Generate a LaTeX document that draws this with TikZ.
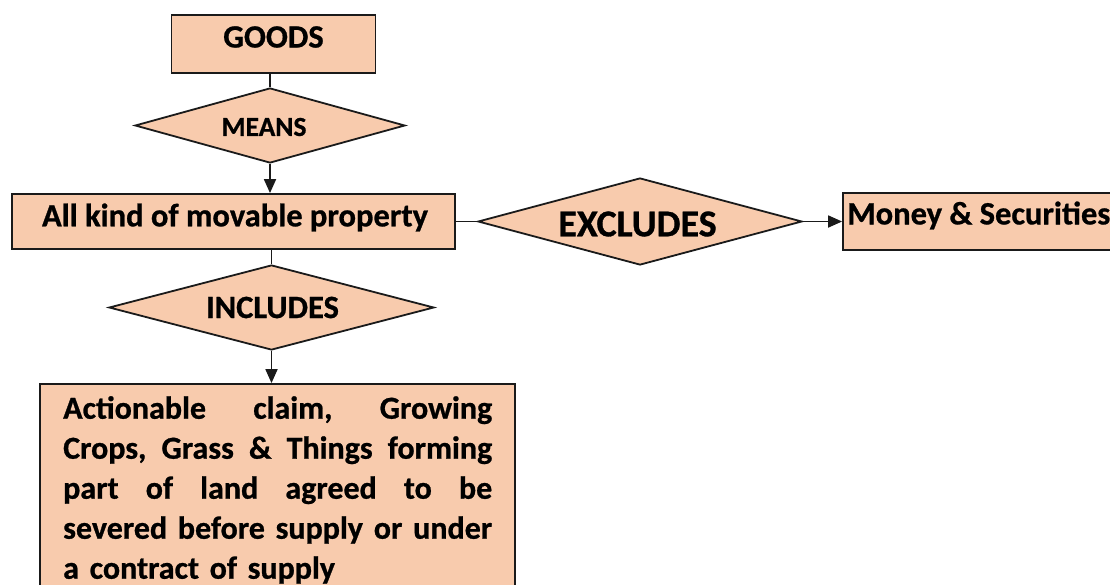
\documentclass[tikz,border=0pt]{standalone}
\usepackage{fontspec}
\setmainfont{Carlito}[BoldFeatures={FakeBold=0.8}]
\usetikzlibrary{shapes.geometric,arrows.meta}
\definecolor{peach}{HTML}{F8CBAD}
\definecolor{edge}{HTML}{1A1A1A}
\tikzset{
  box/.style={draw=edge, line width=1.8pt, fill=peach, rectangle, inner sep=0pt},
  dia/.style={draw=edge, line width=1.8pt, fill=peach, diamond, inner sep=0pt, aspect=3.6},
  txt/.style={font=\bfseries\fontsize{32.5}{38}\selectfont, inner sep=0pt, text=black},
  smalltxt/.style={font=\bfseries\fontsize{27.5}{32}\selectfont, inner sep=0pt, text=black},
  bigtxt/.style={font=\bfseries\fontsize{38}{44}\selectfont, inner sep=0pt, text=black},
  conn/.style={draw=edge, line width=1.8pt},
  arr/.style={conn, -{Triangle[length=14pt,width=12pt]}}
}
\begin{document}
\begin{tikzpicture}[x=1pt,y=-1pt]
\useasboundingbox (0,0) rectangle (1110,584);
\clip (0,0) rectangle (1110,584);
\node[box, minimum width=204pt, minimum height=58pt,
      label={[txt, yshift=7pt]center:GOODS}] (goods) at (273.5,44) {};
\node[dia, minimum width=270pt, minimum height=75pt,
      label={[smalltxt, xshift=-6pt, yshift=-1.5pt]center:MEANS}] (means) at (270,125.5) {};
\node[box, minimum width=443pt, minimum height=55pt,
      label={[txt, xshift=1.5pt, yshift=4pt]center:All kind of movable property}] (movable) at (233.5,221.5) {};
\node[dia, minimum width=324pt, minimum height=87pt,
      label={[bigtxt, xshift=-2.5pt, yshift=-2.5pt]center:EXCLUDES}] (excl) at (640,221.5) {};
\node[box, minimum width=272pt, minimum height=57pt,
      label={[txt, anchor=west, xshift=5pt, yshift=6pt]west:Money \& Securities}] (money) at (979,221.5) {};
\node[dia, minimum width=325pt, minimum height=85pt,
      label={[txt, xshift=1pt, yshift=0pt]center:INCLUDES}] (incl) at (271.5,307.5) {};
\node[box, minimum width=475pt, minimum height=216pt] (action) at (277.5,492) {};
\node[txt, anchor=north west, text width=429pt,
      font=\bfseries\fontsize{32}{40}\selectfont] (actiontext) at (63,396) {%
\hbox to 429pt{Actionable\hfill claim,\hfill Growing}\par
\hbox to 429pt{Crops,\hfill Grass\hfill \&\hfill Things\hfill forming}\par
\hbox to 429pt{part\hfill of\hfill land\hfill agreed\hfill to\hfill be}\par
\hbox to 429pt{severed\hfill before\hfill supply\hfill or\hfill under}\par
\hbox{a contract of supply}};
\draw[conn] (goods.south -| means.north) -- (means.north);
\draw[arr] (means.south) -- (means.south |- movable.north);
\draw[conn] (movable.east) -- (excl.west);
\draw[arr] (excl.east) -- (money.west);
\draw[conn] (incl.north |- movable.south) -- (incl.north);
\draw[arr] (incl.south) -- (incl.south |- action.north);
\end{tikzpicture}
\end{document}
